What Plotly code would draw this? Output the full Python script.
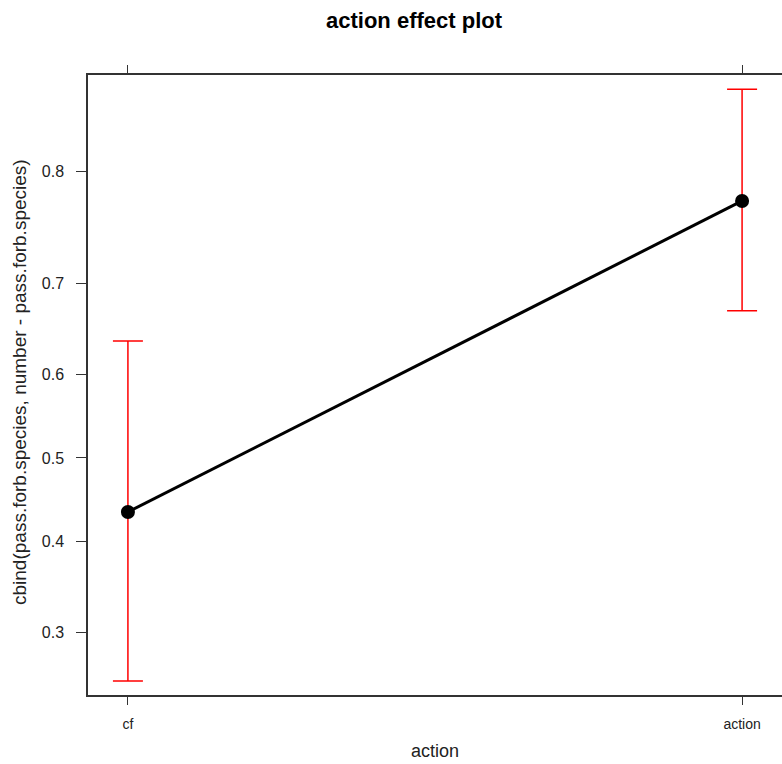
import numpy as np
import plotly.graph_objects as go

# Effect estimates (probability scale) with confidence limits
categories = ["cf", "action"]
fit = [0.435, 0.7765]
lower = [0.2534, 0.6712]
upper = [0.638, 0.8565]
tick_values = [0.3, 0.4, 0.5, 0.6, 0.7, 0.8]


def logit(p):
    p = np.asarray(p, dtype=float)
    return np.log(p / (1 - p))


x_pos = [1, 2]
y_fit = logit(fit)
y_lo = logit(lower)
y_hi = logit(upper)

# plot-area geometry in pixels
W, H = 782, 764
L, R, T, B = 88, 782, 75, 695


def px_x(px):
    return (px - L) / (R - L)


def px_y(py):
    return (B - py) / (B - T)


fig = go.Figure()

# confidence intervals
fig.add_trace(go.Scatter(
    x=x_pos, y=y_fit, mode="markers",
    marker=dict(size=1, color="rgba(0,0,0,0)"),
    error_y=dict(type="data", symmetric=False,
                 array=y_hi - y_fit, arrayminus=y_fit - y_lo,
                 color="#ff0000", thickness=1.5, width=15),
    hoverinfo="skip", showlegend=False,
))

# fitted effect line
fig.add_trace(go.Scatter(
    x=x_pos, y=y_fit, mode="lines+markers",
    line=dict(color="black", width=3),
    marker=dict(color="black", size=14),
    showlegend=False,
))

txt = "#222222"
fig.update_layout(
    width=W, height=H,
    margin=dict(l=L, r=W - R, t=T, b=H - B),
    paper_bgcolor="white", plot_bgcolor="white",
    font=dict(family="Liberation Sans, Arial, sans-serif", color=txt),
    xaxis=dict(
        range=[0.935, 2.065], tickvals=x_pos, ticktext=categories,
        showline=True, linecolor="#333333", linewidth=1.5, mirror="ticks",
        ticks="outside", ticklen=8, tickcolor="#333333", tickwidth=1.2,
        ticklabelstandoff=7,
        showgrid=False, zeroline=False,
        tickfont=dict(size=14, color=txt),
    ),
    yaxis=dict(
        range=[-1.1483, 1.8556],
        tickvals=logit(tick_values), ticktext=[f"{v:.1f}" for v in tick_values],
        showline=True, linecolor="#333333", linewidth=1.5, mirror=False,
        ticks="outside", ticklen=10, tickcolor="#333333", tickwidth=1.2,
        ticklabelstandoff=9,
        showgrid=False, zeroline=False,
        tickfont=dict(size=16, color=txt),
    ),
    annotations=[
        dict(text="<b>action effect plot</b>", xref="paper", yref="paper",
             x=px_x(414), y=px_y(21), xanchor="center", yanchor="middle",
             showarrow=False, font=dict(size=22, color="black")),
        dict(text="action", xref="paper", yref="paper",
             x=px_x(435), y=px_y(751), xanchor="center", yanchor="middle",
             showarrow=False, font=dict(size=18, color=txt)),
        dict(text="cbind(pass.forb.species, number - pass.forb.species)",
             xref="paper", yref="paper", textangle=-90,
             x=px_x(19), y=px_y(382), xanchor="center", yanchor="middle",
             showarrow=False, font=dict(size=19, color=txt)),
    ],
)

fig.write_html("out.html")
